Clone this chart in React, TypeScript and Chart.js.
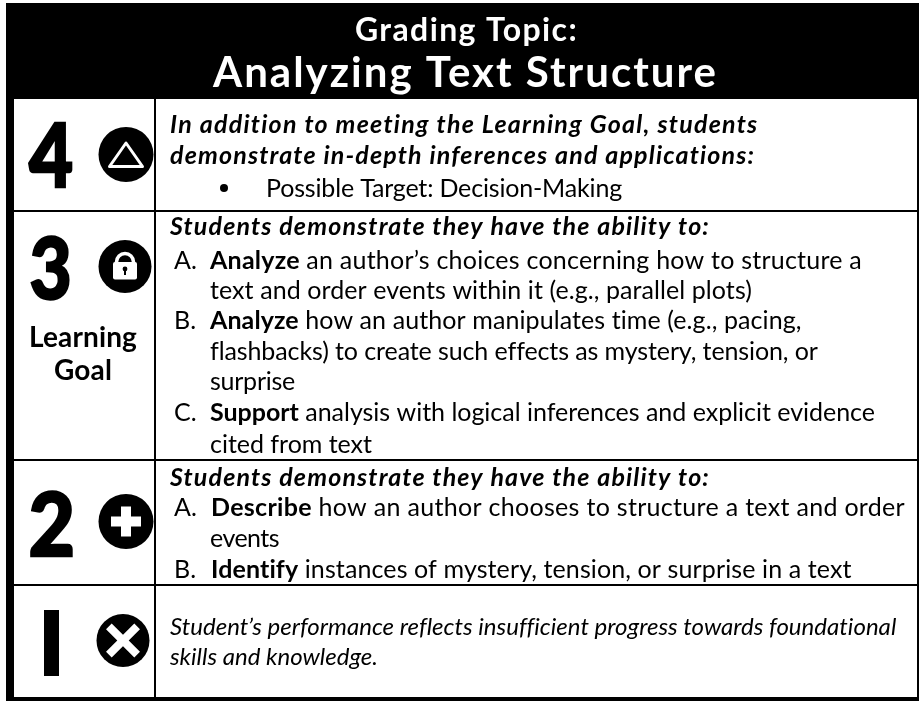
import React, { useEffect, useRef } from "react";
import { Chart, registerables } from "chart.js";

Chart.register(...registerables);

const FONT = "Lato";

// ---- content ----
const titleLines = ["Grading Topic:", "Analyzing Text Structure"];
const scoreLabels = ["4", "3", "2", "1"];
const learningGoalLabel = ["Learning", "Goal"];
type Run = [string, "b" | "r" | "bi" | "i"];
const level4Text: Run[][] = [
  [["In addition to meeting the Learning Goal, students", "bi"]],
  [["demonstrate in-depth inferences and applications:", "bi"]],
  [["Possible Target: Decision-Making", "r"]],
];
const level3Text: Run[][] = [
  [["Students demonstrate they have the ability to:", "bi"]],
  [["Analyze", "b"], [" an author’s choices concerning how to structure a", "r"]],
  [["text and order events within it (e.g., parallel plots)", "r"]],
  [["Analyze", "b"], [" how an author manipulates time (e.g., pacing,", "r"]],
  [["flashbacks) to create such effects as mystery, tension, or", "r"]],
  [["surprise", "r"]],
  [["Support", "b"], [" analysis with logical inferences and explicit evidence", "r"]],
  [["cited from text", "r"]],
];
const level2Text: Run[][] = [
  [["Students demonstrate they have the ability to:", "bi"]],
  [["Describe", "b"], [" how an author chooses to structure a text and order", "r"]],
  [["events", "r"]],
  [["Identify", "b"], [" instances of mystery, tension, or surprise in a text", "r"]],
];
const level1Text: Run[][] = [
  [["Student’s performance reflects insufficient progress towards foundational", "i"]],
  [["skills and knowledge.", "i"]],
];
const listMarkers = ["A.", "B.", "C."];

// ---- frame of the table, in picture units ----
const rowRules = [211, 460, 585];
const columnRule = 155;
const iconCentersX = [126, 125, 126, 123];
const iconCentersY = [154.5, 266.5, 521.5, 640.5];
const iconRadii = [27.5, 26.5, 27.5, 26.5];

// [left, baseline, right]
const level4Layout = [[170, 133, 758], [170, 164, 755], [266, 197, 622]];
const level3Layout = [
  [170, 235, 710], [210, 269, 862], [210, 299, 752], [210, 329, 802],
  [210, 360, 817], [210, 390, 295], [210, 421, 875], [210, 453, 372],
];
const level2Layout = [[170, 486, 710], [211, 516, 905], [210, 547, 279], [211, 578, 852]];
const level1Layout = [[170, 635, 895], [170, 665, 378]];
const markerLayout = [[174, 269, 0], [174, 329, 1], [174, 421, 2], [174, 516, 0], [174, 578, 1]];
// numeral boxes: left, top, right, bottom
const numeralBoxes = [[29, 123, 72, 187], [31, 236, 69, 300], [31, 491, 72, 556]];

const seg = (x1: number, y1: number, x2: number, y2: number, w: number, c = "#000") => ({
  type: "scatter" as const,
  data: [{ x: x1, y: y1 }, { x: x2, y: y2 }],
  showLine: true,
  borderColor: c,
  borderWidth: w,
  pointRadius: 0,
  clip: false as const,
});

const styleFont = (s: string, size: number) => {
  const w = s.startsWith("b") ? 700 : 400;
  const it = s.endsWith("i") ? "italic " : "";
  return `${it}${w} ${size}px ${FONT}`;
};

const textPlugin = {
  id: "rubricText",
  afterDatasetsDraw(chart: any) {
    const { ctx, scales } = chart;
    const X = (v: number) => scales.x.getPixelForValue(v);
    const Y = (v: number) => scales.y.getPixelForValue(v);
    ctx.save();
    ctx.textBaseline = "alphabetic";
    ctx.textAlign = "left";

    const fitted = (runs: Run[], l: number[], size: number, color = "#000") => {
      ctx.fillStyle = color;
      let chars = 0;
      let width = 0;
      ctx.letterSpacing = "0px";
      runs.forEach(([t, s]) => {
        ctx.font = styleFont(s, size);
        width += ctx.measureText(t).width;
        chars += t.length;
      });
      const ls = (l[2] - l[0] - width) / chars;
      ctx.letterSpacing = `${ls}px`;
      let x = X(l[0]);
      runs.forEach(([t, s]) => {
        ctx.font = styleFont(s, size);
        ctx.fillText(t, x, Y(l[1]));
        x += ctx.measureText(t).width;
      });
      ctx.letterSpacing = "0px";
    };

    fitted([[titleLines[0], "b"]], [355, 41, 578], 32, "#fff");
    fitted([[titleLines[1], "b"]], [213, 87, 718], 42, "#fff");

    const BODY = 25;
    level4Text.forEach((r, i) => fitted(r, level4Layout[i], BODY));
    level3Text.forEach((r, i) => fitted(r, level3Layout[i], BODY));
    level2Text.forEach((r, i) => fitted(r, level2Layout[i], BODY));
    level1Text.forEach((r, i) => fitted(r, level1Layout[i], 24));
    markerLayout.forEach((m) => {
      ctx.font = styleFont("r", BODY);
      ctx.fillStyle = "#000";
      ctx.fillText(listMarkers[m[2]], X(m[0]), Y(m[1]));
    });

    // list bullet
    ctx.beginPath();
    ctx.arc(X(224), Y(188), 4, 0, Math.PI * 2);
    ctx.fillStyle = "#000";
    ctx.fill();

    // big score numerals, fitted to their boxes
    numeralBoxes.forEach((b, i) => {
      ctx.save();
      ctx.font = `900 92px ${FONT}`;
      const m = ctx.measureText(scoreLabels[i]);
      const w = m.actualBoundingBoxRight + m.actualBoundingBoxLeft;
      const h = m.actualBoundingBoxAscent + m.actualBoundingBoxDescent;
      ctx.translate(X(b[0]), Y(b[3]));
      ctx.scale((b[2] - b[0]) / w, (b[3] - b[1]) / h);
      ctx.fillStyle = "#000";
      ctx.strokeStyle = "#000";
      ctx.lineWidth = 2.5;
      ctx.lineJoin = "miter";
      ctx.fillText(scoreLabels[i], m.actualBoundingBoxLeft, -m.actualBoundingBoxDescent);
      ctx.strokeText(scoreLabels[i], m.actualBoundingBoxLeft, -m.actualBoundingBoxDescent);
      ctx.restore();
    });
    ctx.save();
    ctx.font = `900 92px ${FONT}`;
    ctx.fillStyle = "#000";
    ctx.beginPath();
    ctx.rect(X(44), Y(610), 15, 66);
    ctx.clip();
    ctx.fillText(scoreLabels[3], X(24), Y(676));
    ctx.restore();
    ctx.fillStyle = "#000";
    ctx.fillRect(X(44), Y(610), 15, 66);

    fitted([[learningGoalLabel[0], "b"]], [29, 347, 137], 28);
    fitted([[learningGoalLabel[1], "b"]], [54, 380, 112], 28);

    // triangle outline in the level-4 disc
    ctx.beginPath();
    ctx.moveTo(X(126), Y(143));
    ctx.lineTo(X(142.5), Y(166.5));
    ctx.lineTo(X(109.5), Y(166.5));
    ctx.closePath();
    ctx.strokeStyle = "#fff";
    ctx.lineWidth = 3;
    ctx.lineJoin = "round";
    ctx.stroke();

    // padlock in the level-3 disc
    ctx.fillStyle = "#fff";
    ctx.strokeStyle = "#fff";
    ctx.lineWidth = 3.5;
    ctx.beginPath();
    ctx.arc(X(125), Y(262), 8.5, Math.PI, 0);
    ctx.lineTo(X(133.5), Y(266));
    ctx.moveTo(X(116.5), Y(266));
    ctx.lineTo(X(116.5), Y(262));
    ctx.stroke();
    ctx.beginPath();
    ctx.roundRect(X(113), Y(262), 24, 17.5, 2);
    ctx.fill();
    ctx.fillStyle = "#000";
    ctx.beginPath();
    ctx.arc(X(125), Y(269), 2.4, 0, Math.PI * 2);
    ctx.fill();
    ctx.fillRect(X(124), Y(269), 2, 6);
    ctx.restore();
  },
};

export default function App() {
  const ref = useRef<HTMLCanvasElement>(null);
  useEffect(() => {
    document.body.style.margin = "0";
    const discs = {
      type: "scatter" as const,
      data: iconCentersX.map((x, i) => ({ x, y: iconCentersY[i] })),
      backgroundColor: "#000",
      borderWidth: 0,
      pointStyle: "circle",
      pointRadius: iconRadii,
      clip: false as const,
    };
    const plus = {
      type: "scatter" as const,
      data: [{ x: iconCentersX[2], y: iconCentersY[2] }],
      pointStyle: "cross",
      pointRadius: 15,
      borderColor: "#fff",
      pointBorderWidth: 10,
      clip: false as const,
    };
    const times = {
      type: "scatter" as const,
      data: [{ x: iconCentersX[3], y: iconCentersY[3] }],
      pointStyle: "crossRot",
      pointRadius: 20,
      borderColor: "#fff",
      pointBorderWidth: 8,
      clip: false as const,
    };
    const chart = new Chart(ref.current!, {
      type: "scatter",
      data: {
        datasets: [
          plus,
          times,
          discs,
          seg(6, 51, 919, 51, 96),
          seg(10, 3, 10, 701, 8),
          seg(6, 699, 919, 699, 4),
          seg(918, 3, 918, 701, 2),
          seg(columnRule, 99, columnRule, 697, 2),
          ...rowRules.map((y) => seg(14, y, 918, y, 2)),
        ] as any,
      },
      options: {
        animation: false,
        responsive: false,
        layout: { padding: 0, autoPadding: false },
        events: [],
        plugins: { legend: { display: false }, title: { display: false }, tooltip: { enabled: false } },
        scales: {
          x: { type: "linear", min: 0, max: 919, display: false },
          y: { type: "linear", min: 0, max: 701, reverse: true, display: false },
        },
      },
      plugins: [textPlugin],
    });
    return () => chart.destroy();
  }, []);
  return (
    <canvas
      ref={ref}
      width={919}
      height={701}
      style={{ display: "block", width: 919, height: 701, background: "#fff" }}
    />
  );
}
